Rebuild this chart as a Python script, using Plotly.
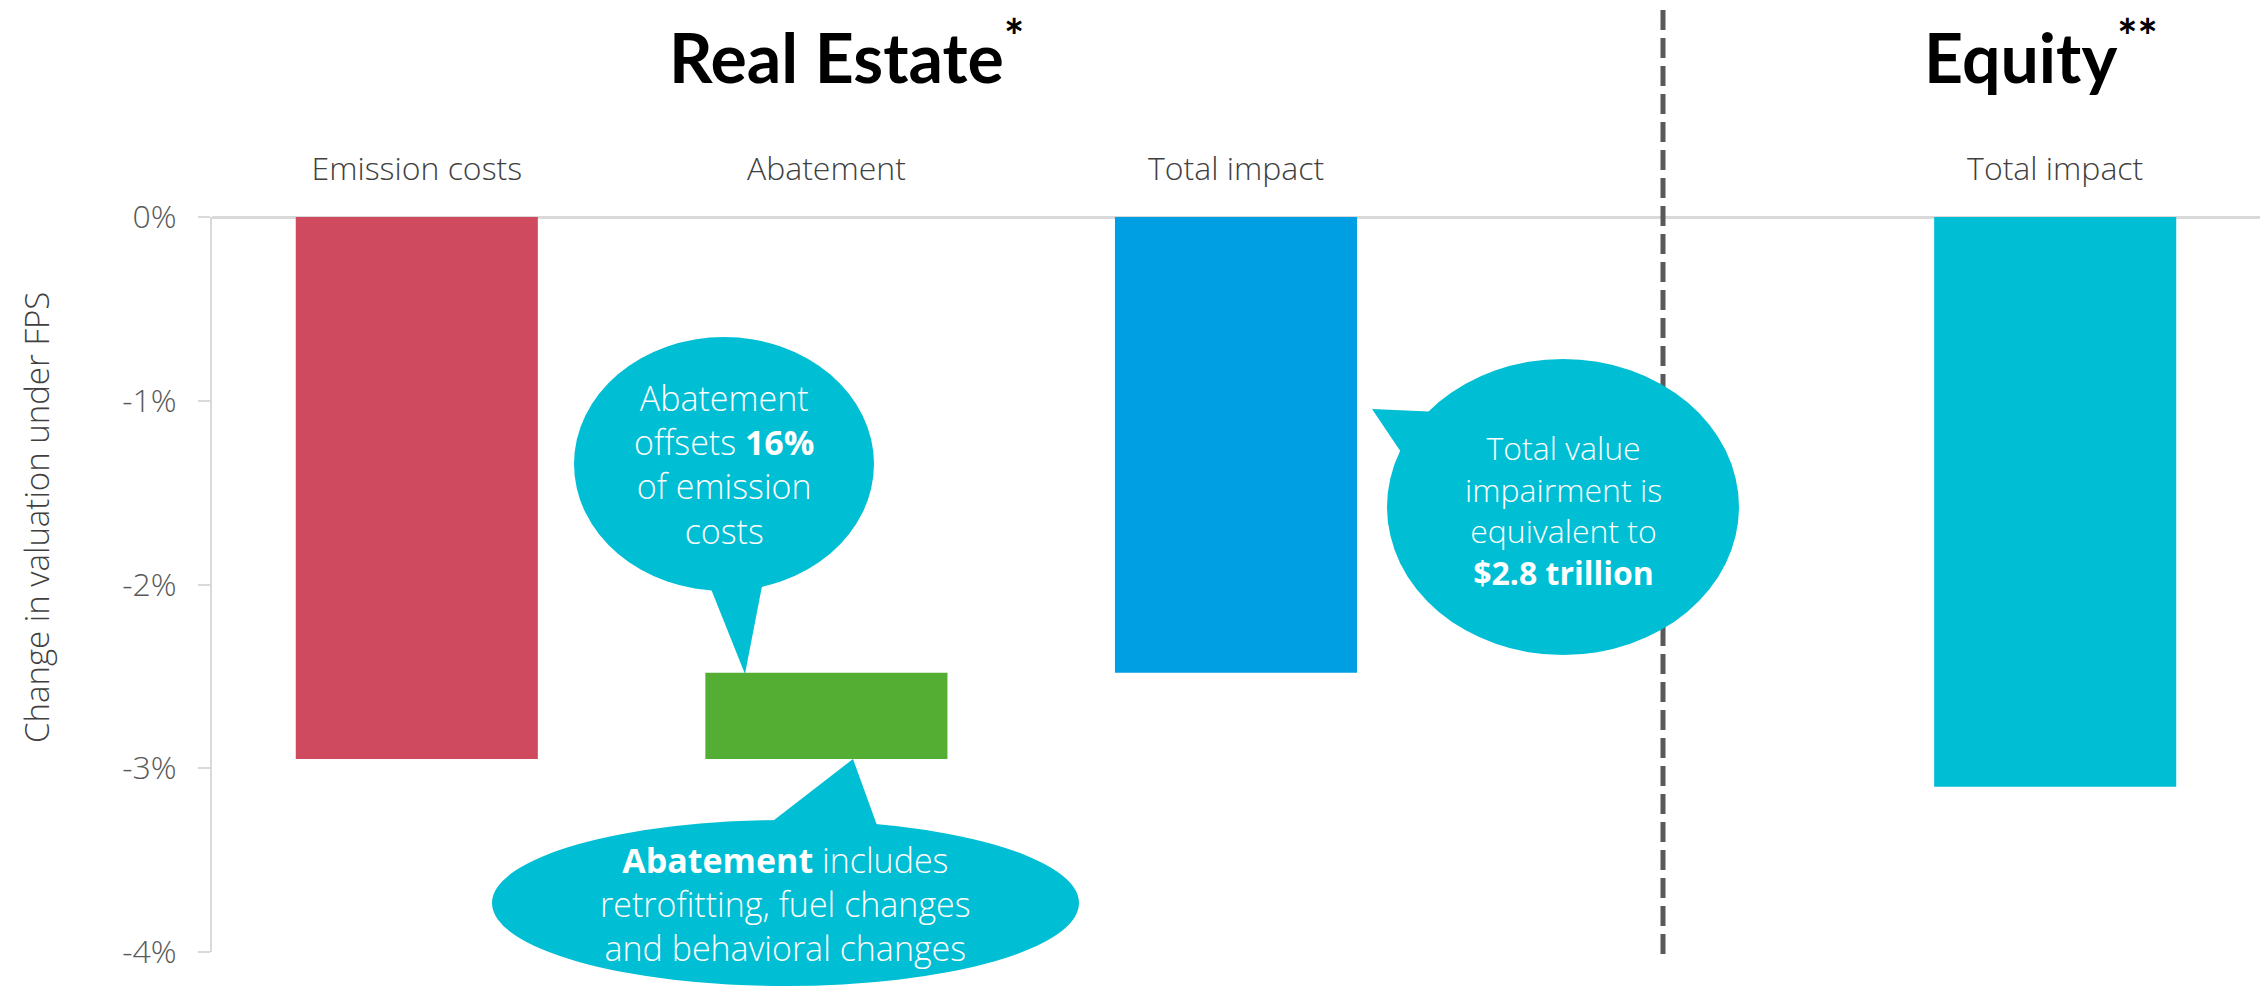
import plotly.graph_objects as go

# data (percent change in valuation under FPS)
categories = ["Emission costs", "Abatement", "Total impact", "", "Total impact"]
emission_costs = -2.95
abatement = 0.47
real_estate_total = -2.48
equity_total = -3.10

bar_values = [emission_costs, abatement, real_estate_total, None, equity_total]
bar_bases = [0, emission_costs, 0, None, 0]
bar_colors = ["#D04A5F", "#54AE33", "#009FE3", "#FFFFFF", "#00BED4"]

y_ticks = [0, -1, -2, -3, -4]
y_tick_text = ["0%", "-1%", "-2%", "-3%", "-4%"]

BUBBLE = "#00BED4"
LIGHT = "Open Sans"

# plot area in screen pixels, used to place the callouts
L, R, T, B = 212, 2260, 217, 952


def px(x):
    return (x - L) / (R - L)


def py(y):
    return (B - y) / (B - T)


def ellipse(x0, y0, x1, y1):
    return dict(type="circle", xref="paper", yref="paper", x0=px(x0), x1=px(x1),
                y0=py(y1), y1=py(y0), fillcolor=BUBBLE, line_width=0, layer="above")


def tail(points):
    path = "M " + " L ".join(f"{px(a):.5f},{py(b):.5f}" for a, b in points) + " Z"
    return dict(type="path", xref="paper", yref="paper", path=path,
                fillcolor=BUBBLE, line_width=0, layer="above")


def label(text, x, y, size, color, family=LIGHT, weight=300, angle=0):
    return dict(text=text, x=px(x), y=py(y), xref="paper", yref="paper",
                xanchor="center", yanchor="middle", showarrow=False, align="center",
                textangle=angle, font=dict(family=family, size=size, color=color, weight=weight))


fig = go.Figure()
fig.add_trace(go.Bar(
    x=list(range(len(categories))),
    y=bar_values,
    base=bar_bases,
    marker_color=bar_colors,
    marker_line_width=0,
    hoverinfo="skip",
))

shapes = [
    dict(type="line", xref="paper", yref="paper", x0=px(1663), x1=px(1663),
         y0=py(10), y1=py(956), line=dict(color="#595959", width=5, dash="20px,8px"),
         layer="above"),
    ellipse(574, 337, 874, 591),
    tail([(709, 584), (763, 581), (745, 674)]),
    ellipse(492, 820, 1079, 986),
    tail([(769, 824), (878, 828), (853, 759)]),
    ellipse(1387, 359, 1739, 655),
    tail([(1440, 412), (1372, 409), (1405, 458)]),
]

annotations = [
    label("Real Estate<sup>*</sup>", 846, 52, 68, "#000000", family="Lato", weight=700),
    label("Equity<sup>**</sup>", 2041, 52, 68, "#000000", family="Lato", weight=700),
    label("Change in valuation under FPS", 36, 518, 33, "#404040", angle=-90),
    label("Abatement<br>offsets <b>16%</b><br>of emission<br>costs", 724, 464, 34, "white"),
    label("<b>Abatement</b> includes<br>retrofitting, fuel changes<br>and behavioral changes",
          785, 904, 34, "white"),
    label("Total value<br>impairment is<br>equivalent to<br><b>$2.8 trillion</b>",
          1563, 510, 32, "white"),
]

fig.update_layout(
    width=2262,
    height=986,
    margin=dict(l=L, r=2262 - R, t=T, b=986 - B),
    plot_bgcolor="white",
    paper_bgcolor="white",
    showlegend=False,
    bargap=0.409,
    shapes=shapes,
    annotations=annotations,
    font=dict(family=LIGHT, color="#404040"),
)
fig.update_xaxes(
    side="top",
    range=[-0.5, len(categories) - 0.5],
    tickvals=list(range(len(categories))),
    ticktext=categories,
    showgrid=False,
    zeroline=False,
    showline=False,
    ticks="",
    ticklabelstandoff=30,
    tickfont=dict(family=LIGHT, size=32, color="#404040", weight=300),
)
fig.update_yaxes(
    range=[-4, 0],
    tickvals=y_ticks,
    ticktext=y_tick_text,
    showgrid=False,
    zeroline=True,
    zerolinecolor="#D9D9D9",
    zerolinewidth=3,
    showline=True,
    linecolor="#D9D9D9",
    linewidth=2,
    ticks="outside",
    ticklen=12,
    tickwidth=2,
    tickcolor="#D9D9D9",
    ticklabelstandoff=15,
    tickfont=dict(family=LIGHT, size=32, color="#595959", weight=300),
)

fig.write_html("out.html", config={"displayModeBar": False},
               post_script="document.body.style.margin='0';")
